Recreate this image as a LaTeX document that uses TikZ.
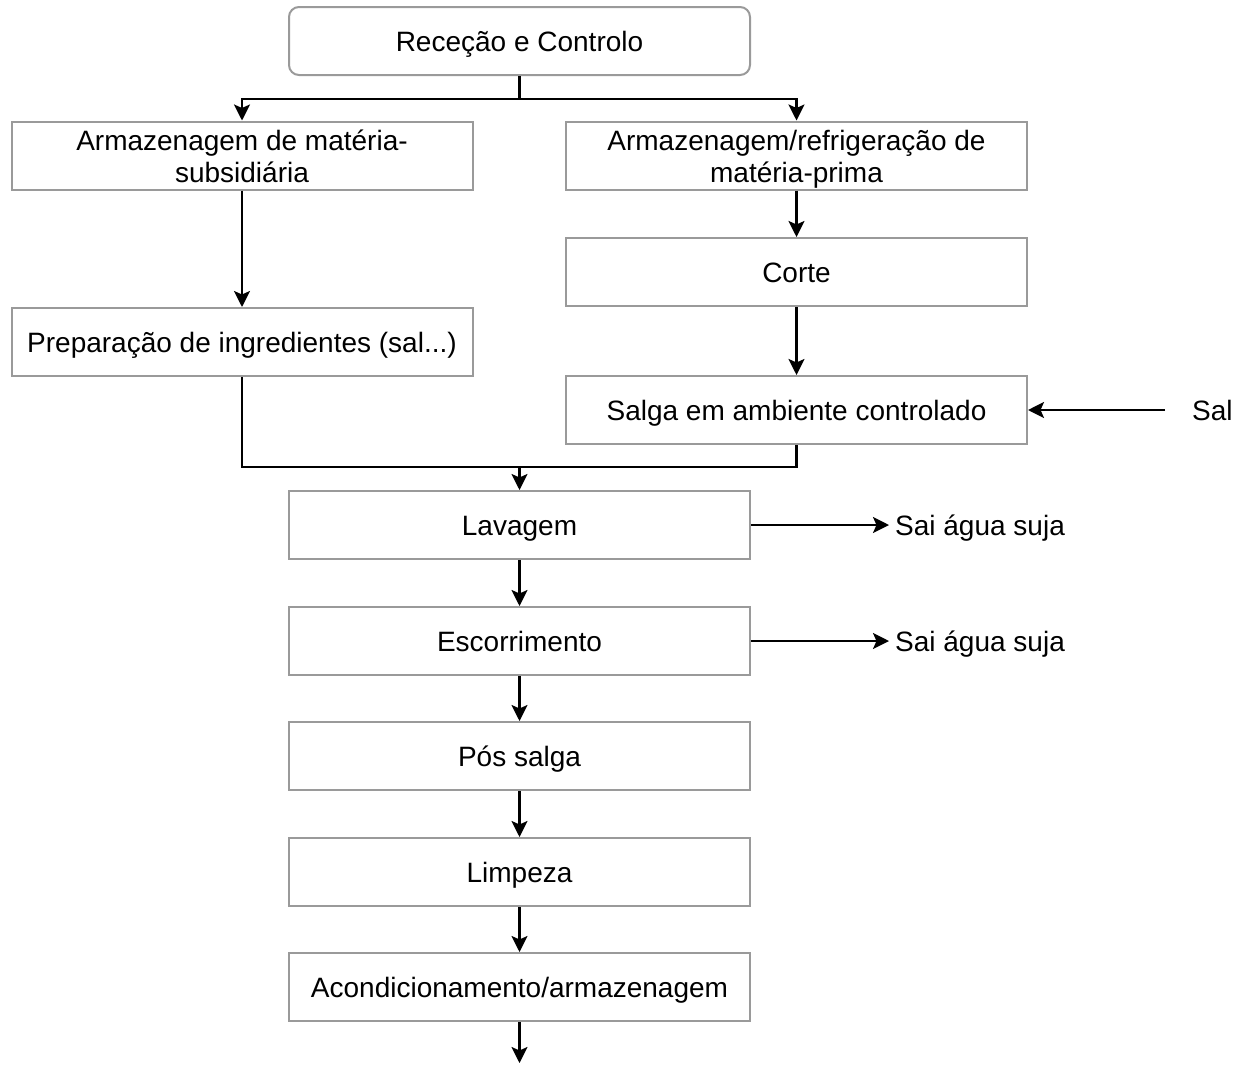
\documentclass[tikz,border=0pt]{standalone}
\usepackage{fontspec}
\setmainfont{Liberation Sans}
\usetikzlibrary{arrows.meta}
\definecolor{boxgray}{HTML}{9A9A9A}
\newcommand{\twolines}[2]{\vbox{\baselineskip=32pt\lineskiplimit=-100pt\halign{\hfil##\hfil\cr\rule{0pt}{29pt}#1\cr#2\rule[-7pt]{0pt}{7pt}\cr}}}
\begin{document}
\begin{tikzpicture}[x=1pt,y=-1pt,
  txt/.style={font=\fontsize{28}{32}\selectfont},
  boxbase/.style={txt,draw=boxgray,line width=2pt,minimum width=461pt,minimum height=68pt,inner sep=0pt,align=center},
  box/.style={boxbase,execute at begin node={\rule{0pt}{27pt}},execute at end node={\rule[-7pt]{0pt}{7pt}}},
  side/.style={txt,inner sep=0pt,anchor=west,text height=20pt,text depth=0pt},
  conn/.style={line width=2.4pt,black},
  arr/.style={conn,-{Stealth[length=16pt,width=16pt,inset=3.5pt]}}]
\useasboundingbox (0,0) rectangle (1236,1066);
\node[box,rounded corners=10pt] (rec) at (519.5,41) {Receção e Controlo};
\node[boxbase] (arm1) at (242,155.5) {\twolines{Armazenagem de matéria-}{subsidiária}};
\node[boxbase] (arm2) at (796.5,155.5) {\twolines{Armazenagem/refrigeração de}{matéria-prima}};
\node[box] (corte) at (796.5,272) {Corte};
\node[box] (prep) at (242,342) {Preparação de ingredientes (sal...)};
\node[box] (salga) at (796.5,410) {Salga em ambiente controlado};
\node[box] (lav) at (519.5,525) {Lavagem};
\node[box] (esc) at (519.5,641) {Escorrimento};
\node[box] (pos) at (519.5,756) {Pós salga};
\node[box] (limp) at (519.5,872) {Limpeza};
\node[box] (acon) at (519.5,987) {Acondicionamento/armazenagem};
\node[side] (sal) at (1192,410) {Sal};
\node[side] (s1) at (895,525) {Sai água suja};
\node[side] (s2) at (895,641) {Sai água suja};
\coordinate (m) at (519.5,467);
\coordinate (fim) at (519.5,1063);
\draw[arr] (rec.south) -- ++(0,23) -| (arm1.north);
\draw[arr] (rec.south) -- ++(0,23) -| (arm2.north);
\draw[arr] (arm1.south) -- (prep.north);
\draw[arr] (arm2.south) -- (corte.north);
\draw[arr] (corte.south) -- (salga.north);
\draw[conn] (prep.south) |- (m);
\draw[conn] (salga.south) |- (m);
\draw[arr] (m) -- (lav.north);
\draw[arr,shorten <=27pt] (sal.west) -- (salga.east);
\draw[arr,shorten >=6pt] (lav.east) -- (s1.west);
\draw[arr,shorten >=6pt] (esc.east) -- (s2.west);
\draw[arr] (lav.south) -- (esc.north);
\draw[arr] (esc.south) -- (pos.north);
\draw[arr] (pos.south) -- (limp.north);
\draw[arr] (limp.south) -- (acon.north);
\draw[arr] (acon.south) -- (fim);
\end{tikzpicture}
\end{document}
